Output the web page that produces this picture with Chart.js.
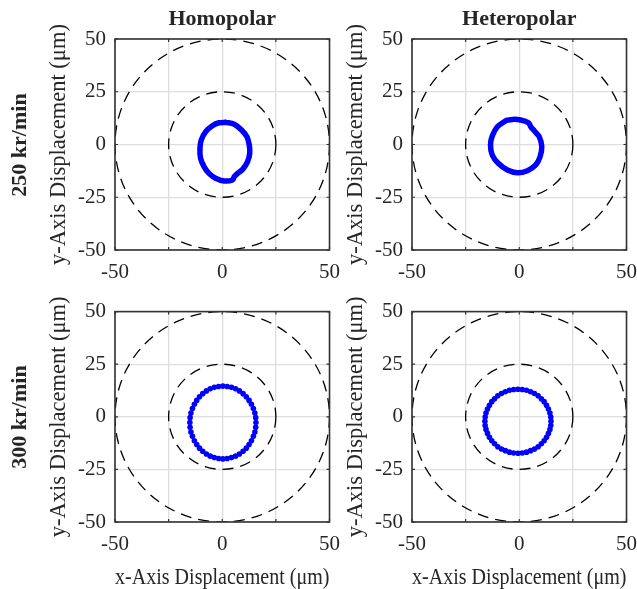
<!DOCTYPE html>
<html>
<head>
<meta charset="utf-8">
<script src="https://cdn.jsdelivr.net/npm/chart.js@4.4.1/dist/chart.umd.min.js"></script>
<style>
body { margin: 0; background: #fff; }
#wrap { position: relative; width: 637px; height: 589px; background: #fff; overflow: hidden; }
#wrap canvas { position: absolute; }
.rowlab { position: absolute; width: 200px; height: 24px; line-height: 24px; text-align: center;
  font-family: 'Liberation Serif', serif; font-weight: bold; font-size: 22px; color: #262626;
  transform: rotate(-90deg); }
</style>
</head>
<body>
<div id="wrap">
  <canvas id="c1" width="350" height="290" style="left:0;top:0"></canvas>
  <canvas id="c2" width="350" height="290" style="left:297px;top:0"></canvas>
  <canvas id="c3" width="350" height="299" style="left:0;top:290px"></canvas>
  <canvas id="c4" width="350" height="299" style="left:297px;top:290px"></canvas>
  <div class="rowlab" id="r1" style="left:-81px;top:133px"></div>
  <div class="rowlab" id="r2" style="left:-81px;top:405px"></div>
</div>
<script>
// titles
var colTitles = ['Homopolar', 'Heteropolar'];
var rowTitles = ['250 kr/min', '300 kr/min'];
var xTitle = 'x-Axis Displacement (\u03bcm)';
var yTitle = 'y-Axis Displacement (\u03bcm)';

// ticks / reference circles
var axisTicks = [-50, -25, 0, 25, 50];
var xTickLabels = [-50, 0, 50];
var yTickLabels = [-50, -25, 0, 25, 50];
var refRadii = [25, 50];

// Homopolar 250 kr/min orbit
var homo250X = [1.6, 5.6, 9.0, 11.5, 12.6, 12.8, 11.8, 9.5, 6.8, 5.6, 4.8, 0.9, -3.1, -6.2, -8.5, -10.1, -10.4, -9.8, -7.7, -4.6, -1.5, 1.6];
var homo250Y = [10.5, 9.6, 6.9, 3.7, -0.2, -4.2, -8.1, -11.8, -14.0, -15.2, -16.8, -17.3, -16.0, -13.7, -10.5, -6.6, -1.8, 2.1, 6.1, 8.9, 10.3, 10.5];

// Heteropolar 250 kr/min orbit
var hetero250X = [-6.3, -3.2, 0.7, 4.3, 5.4, 7.0, 9.3, 10.5, 9.7, 7.7, 3.8, -0.8, -5.5, -9.8, -12.6, -13.4, -12.6, -10.2, -6.3];
var hetero250Y = [11.3, 11.9, 11.6, 10.3, 8.4, 6.5, 3.7, -1.0, -5.8, -9.7, -12.4, -13.4, -12.1, -8.9, -5.0, -0.2, 4.0, 8.4, 11.3];

// Homopolar 300 kr/min samples
var homo300X = [15.7, 15.6, 15.2, 14.5, 13.6, 12.5, 11.2, 9.7, 8.0, 6.2, 4.3, 2.3, 0.3, -1.7, -3.7, -5.6, -7.4, -9.1, -10.6, -11.9, -13.0, -13.9, -14.6, -15.0,
  -15.1, -15.0, -14.6, -13.9, -13.0, -11.9, -10.6, -9.1, -7.4, -5.6, -3.7, -1.7, 0.3, 2.3, 4.3, 6.2, 8.0, 9.7, 11.2, 12.5, 13.6, 14.5, 15.2, 15.6];
var homo300Y = [-2.7, -0.4, 1.8, 3.9, 6.0, 7.8, 9.5, 11.0, 12.3, 13.3, 14.0, 14.4, 14.6, 14.4, 14.0, 13.3, 12.3, 11.0, 9.5, 7.8, 6.0, 3.9, 1.8, -0.4,
  -2.7, -5.0, -7.2, -9.3, -11.4, -13.2, -14.9, -16.4, -17.7, -18.7, -19.4, -19.8, -20.0, -19.8, -19.4, -18.7, -17.7, -16.4, -14.9, -13.2, -11.4, -9.3, -7.2, -5.0];

// Heteropolar 300 kr/min samples
var hetero300X = [14.8, 14.7, 14.3, 13.6, 12.7, 11.6, 10.3, 8.8, 7.1, 5.3, 3.4, 1.4, -0.6, -2.6, -4.6, -6.5, -8.3, -10.0, -11.5, -12.8, -13.9, -14.8, -15.5, -15.9,
  -16.0, -15.9, -15.5, -14.8, -13.9, -12.8, -11.5, -10.0, -8.3, -6.5, -4.6, -2.6, -0.6, 1.4, 3.4, 5.3, 7.1, 8.8, 10.3, 11.6, 12.7, 13.6, 14.3, 14.7];
var hetero300Y = [-2.1, -0.1, 1.8, 3.7, 5.5, 7.2, 8.6, 10.0, 11.1, 11.9, 12.6, 13.0, 13.1, 13.0, 12.6, 11.9, 11.1, 10.0, 8.6, 7.2, 5.5, 3.7, 1.8, -0.1,
  -2.1, -4.1, -6.0, -7.9, -9.7, -11.4, -12.8, -14.2, -15.3, -16.1, -16.8, -17.2, -17.3, -17.2, -16.8, -16.1, -15.3, -14.2, -12.8, -11.4, -9.7, -7.9, -6.0, -4.1];

var FONT = 'Liberation Serif';
var TXT = '#262626';

var orbitDeco = {
  id: 'orbitDeco',
  beforeDatasetsDraw: function(chart) {
    var c = chart.ctx, a = chart.chartArea, sx = chart.scales.x, sy = chart.scales.y;
    var cx = sx.getPixelForValue(0), cy = sy.getPixelForValue(0);
    c.save();
    c.beginPath(); c.rect(a.left, a.top, a.right - a.left, a.bottom - a.top); c.clip();
    c.strokeStyle = '#000'; c.lineWidth = 1.3; c.setLineDash([11, 7]);
    refRadii.forEach(function(r) {
      var rx = sx.getPixelForValue(r) - cx, ry = cy - sy.getPixelForValue(r);
      c.beginPath(); c.ellipse(cx, cy, rx, ry, 0, 0, Math.PI * 2); c.stroke();
    });
    c.restore();
  },
  afterDatasetsDraw: function(chart) {
    var c = chart.ctx, a = chart.chartArea, sx = chart.scales.x, sy = chart.scales.y;
    c.save();
    c.strokeStyle = '#333'; c.lineWidth = 1.6; c.setLineDash([]);
    c.strokeRect(a.left, a.top, a.right - a.left, a.bottom - a.top);
    c.lineWidth = 1.2;
    axisTicks.forEach(function(v) {
      var px = sx.getPixelForValue(v), py = sy.getPixelForValue(v);
      c.beginPath();
      c.moveTo(px, a.bottom); c.lineTo(px, a.bottom - 3);
      c.moveTo(px, a.top); c.lineTo(px, a.top + 3);
      c.moveTo(a.left, py); c.lineTo(a.left + 3, py);
      c.moveTo(a.right, py); c.lineTo(a.right - 3, py);
      c.stroke();
    });
    c.restore();
  }
};

function pts(xs, ys) {
  return xs.map(function(x, i) { return { x: x, y: ys[i] }; });
}

function dibujar(id, xs, ys, conf) {
  var ctx = document.getElementById(id).getContext('2d');
  var ds;
  if (conf.line) {
    ds = { data: pts(xs, ys), showLine: true, borderColor: '#0000ff', borderWidth: 5.5,
      pointRadius: 0, borderJoinStyle: 'round', borderCapStyle: 'round', tension: 0.3 };
  } else {
    ds = { data: pts(xs, ys), showLine: false, pointRadius: 2.8, pointBackgroundColor: '#0000ff',
      pointBorderColor: '#0000ff', pointBorderWidth: 0 };
  }
  return new Chart(ctx, {
    type: 'scatter',
    data: { datasets: [ds] },
    plugins: [orbitDeco],
    options: {
      responsive: false, animation: false, devicePixelRatio: 1,
      layout: { padding: { left: 0, right: 12, top: conf.top ? 0 : 20, bottom: 0 } },
      plugins: {
        legend: { display: false }, tooltip: { enabled: false },
        title: { display: !!conf.title, text: conf.title || '', fullSize: false, color: TXT,
          font: { family: FONT, size: 22, weight: 'bold', lineHeight: 1.2 }, padding: { top: 6, bottom: 6.6 } }
      },
      scales: {
        x: {
          min: -50, max: 50,
          afterBuildTicks: function(s) { s.ticks = axisTicks.map(function(v) { return { value: v }; }); },
          afterFit: function(s) { s.height = conf.xh; },
          grid: { color: '#dedede', lineWidth: 1.3, drawTicks: false },
          border: { display: false },
          ticks: { color: TXT, font: { family: FONT, size: 21 }, padding: 10, maxRotation: 0, autoSkip: false,
            callback: function(v) { return xTickLabels.indexOf(v) >= 0 ? String(v) : ''; } },
          title: { display: !!conf.xt, text: xTitle, color: TXT, font: { family: FONT, size: 22.5, lineHeight: 1 }, padding: { top: 0, bottom: 0 } }
        },
        y: {
          min: -50, max: 50,
          afterBuildTicks: function(s) { s.ticks = axisTicks.map(function(v) { return { value: v }; }); },
          afterFit: function(s) { s.width = 115; },
          grid: { color: '#dedede', lineWidth: 1.3, drawTicks: false },
          border: { display: false },
          ticks: { color: TXT, font: { family: FONT, size: 21 }, padding: 9, autoSkip: false,
            callback: function(v) { return yTickLabels.indexOf(v) >= 0 ? String(v) : ''; } },
          title: { display: true, text: yTitle, color: TXT, font: { family: FONT, size: 22.5, lineHeight: 1 }, padding: { top: 47.5, bottom: 0 } }
        }
      }
    }
  });
}

dibujar('c1', homo250X, homo250Y, { line: true, top: true, title: colTitles[0], xh: 40 });
dibujar('c2', hetero250X, hetero250Y, { line: true, top: true, title: colTitles[1], xh: 40 });
dibujar('c3', homo300X, homo300Y, { line: false, top: false, xt: true, xh: 67 });
dibujar('c4', hetero300X, hetero300Y, { line: false, top: false, xt: true, xh: 67 });

document.getElementById('r1').textContent = rowTitles[0];
document.getElementById('r2').textContent = rowTitles[1];
</script>
</body>
</html>
